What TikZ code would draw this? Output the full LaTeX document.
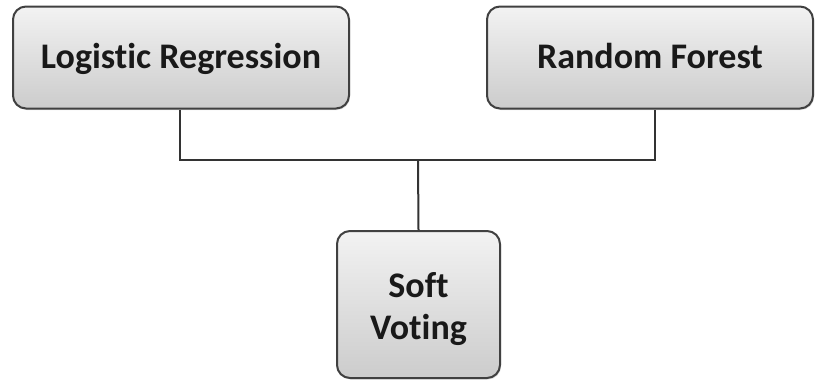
\documentclass[tikz,border=0pt]{standalone}
\usepackage{fontspec}
\setmainfont[Ligatures=NoCommon]{Carlito}
\usetikzlibrary{shadows}
\tikzset{
  box/.style={draw=black!75, line width=2pt, rounded corners=13pt,
    top color=gray!10, bottom color=gray!40, inner sep=0pt,
    font=\fontsize{36}{42}\selectfont\bfseries, text=black!90,
    drop shadow={shadow xshift=1pt, shadow yshift=-1.5pt, fill=black!25}},
  oneline/.style={text height=27pt, text depth=6pt},
  conn/.style={draw=black!80, line width=2pt}
}
\begin{document}
\begin{tikzpicture}[x=1pt,y=-1pt]
\useasboundingbox (0,0) rectangle (816,381);
\node[box, oneline, minimum width=336pt, minimum height=102pt] (lr) at (181,57.5) {Logistic Regression};
\node[box, oneline, minimum width=326pt, minimum height=102pt] (rf) at (650,57.5) {Random Forest};
\node[box, minimum width=163pt, minimum height=147pt] (sv) at (418.5,304.5)
  {\raisebox{-6pt}[\height][\depth]{\begin{tabular}{@{}c@{}}Soft\\Voting\end{tabular}}};
\coordinate (j) at (418,160);
\draw[conn] (lr.south -| 180,0) |- (j) -| (rf.south -| 655,0);
\draw[conn] (j) -- (sv.north);
\end{tikzpicture}
\end{document}
